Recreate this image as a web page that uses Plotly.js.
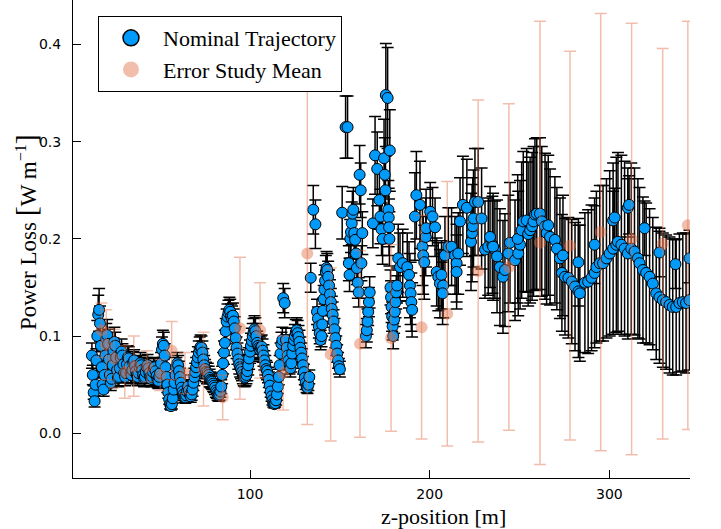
<!DOCTYPE html>
<html>
<head>
<meta charset="utf-8">
<script src="https://cdn.plot.ly/plotly-3.0.1.min.js"></script>
<style>
html,body{margin:0;padding:0;background:#ffffff;}
#chart{width:721px;height:529px;}
</style>
</head>
<body>
<div id="chart"></div>
<script>
// ---------------- Nominal Trajectory (z [m], power loss, error) ----------------
const nomZ = [
  12.0,12.5,13.0,13.5,14.0,14.5,15.0,15.5,16.0,16.5,17.0,17.5,18.0,18.5,19.0,19.5,20.0,20.5,21.0,21.5,22.0,22.5,23.0,23.5,24.0,24.5,25.0,25.5,26.0,26.5,27.0,27.5,28.0,28.5,29.0,29.5,30.0,30.5,31.0,31.5,32.0,32.5,33.0,33.5,34.0,34.5,35.0,35.5,36.0,
  36.5,37.0,37.5,38.0,38.5,39.0,39.5,40.0,40.5,41.0,41.5,42.0,42.5,43.0,43.5,44.0,44.5,45.0,45.5,46.0,46.5,47.0,47.5,48.0,48.5,49.0,49.5,
  50.0,50.5,51.0,51.5,52.0,52.5,53.0,53.5,54.0,54.5,55.0,55.5,56.0,56.5,57.0,57.5,58.0,
  58.5,59.0,59.5,60.0,60.5,61.0,61.5,62.0,62.5,63.0,63.5,64.0,64.5,65.0,65.5,66.0,66.5,67.0,67.5,68.0,68.5,69.0,69.5,70.0,70.5,71.0,71.5,72.0,72.5,73.0,73.5,74.0,74.5,75.0,
  75.5,76.0,76.5,77.0,77.5,78.0,78.5,79.0,79.5,80.0,80.5,81.0,81.5,82.0,82.5,83.0,83.5,84.0,84.5,85.0,85.5,86.0,86.5,87.0,87.5,88.0,88.5,89.0,89.5,90.0,90.5,91.0,91.5,92.0,92.5,93.0,93.5,94.0,94.5,
  95.0,95.5,96.0,96.5,97.0,97.5,98.0,98.5,99.0,99.5,100.0,100.5,101.0,101.5,102.0,102.5,103.0,103.5,104.0,
  104.5,105.0,105.5,106.0,106.5,107.0,107.5,108.0,108.5,109.0,109.5,110.0,110.5,111.0,111.5,112.0,112.5,113.0,113.5,114.0,114.5,115.0,115.5,116.0,116.5,117.0,117.5,118.0,
  118.5,119.3,120.0,120.5,121.0,121.5,122.0,122.5,123.0,123.5,124.0,124.5,125.0,125.5,126.0,126.5,127.0,127.5,128.0,128.5,129.0,129.5,130.0,130.5,131.0,131.5,132.0,132.5,133.0,
  133.8,135.2,136.4,137.3,137.8,138.3,138.8,139.3,139.8,140.2,140.6,141.0,141.4,141.8,142.2,142.6,143.0,143.5,144.0,144.5,145.0,145.5,146.0,146.5,147.0,147.5,148.0,148.5,149.0,149.5,150.0,
  151.3,153.2,154.3,155.0,155.4,155.8,156.2,156.6,157.0,157.5,158.0,158.5,159.0,159.5,160.0,160.5,161.0,161.6,162.5,
  162.0,164.5,165.0,165.4,165.8,166.2,166.6,168.4,169.6,170.8,172.0,172.6,173.2,173.8,174.6,175.0,175.4,175.6,176.6,177.0,177.2,177.4,177.6,177.8,178.2,178.5,178.8,179.1,179.4,179.7,180.2,180.6,181.0,181.4,181.8,
  182.5,183.5,185.0,187.5,188.5,189.0,189.4,189.8,190.2,191.8,192.6,194.6,196.0,196.4,197.0,197.8,198.0,
  200.3,201.6,203.0,203.9,204.8,205.7,206.6,207.5,207.2,208.5,210.4,212.2,214.1,215.0,215.0,215.9,
  216.9,218.5,220.7,223.0,223.6,224.0,224.4,225.2,227.0,228.9,230.8,232.6,234.9,236.3,233.6,235.3,237.5,239.1,240.8,241.9,243.8,244.7,247.5,249.3,250.3,249.0,
  251.2,252.1,254.0,254.8,255.9,257.0,257.8,258.6,259.6,261.4,262.4,264.2,265.1,266.0,267.0,
  269.7,270.8,272.5,274.2,273.6,275.3,277.2,279.1,280.9,282.8,283.6,282.8,286.4,288.2,290.1,291.8,292.8,291.8,294.7,
  296.5,298.4,300.2,302.1,303.9,304.8,306.7,308.5,310.3,312.2,314.0,315.9,316.8,318.7,320.5,322.4,324.2,326.1,327.9,329.8,331.6,333.5,335.3,337.2,339.0,340.9,342.7,344.6,
  302.1,303.0,310.3,311.0,319.6,327.9,336.8,344.6
];
const nomY = [
  0.080,0.060,0.042,0.033,0.050,0.075,0.100,0.122,0.127,0.113,0.090,0.068,0.050,0.045,0.060,0.080,0.097,0.101,0.092,0.076,0.060,0.052,0.056,0.070,0.085,0.094,0.090,0.078,0.065,0.057,0.058,0.067,0.078,0.084,0.080,0.071,0.062,0.058,0.062,0.071,0.078,0.077,0.069,0.062,0.060,0.065,0.073,0.075,0.069,
  0.064,0.060,0.058,0.062,0.068,0.072,0.070,0.065,0.060,0.057,0.058,0.063,0.068,0.070,0.067,0.062,0.058,0.056,0.058,0.063,0.067,0.068,0.064,0.059,0.055,0.054,0.058,
  0.062,0.072,0.086,0.092,0.090,0.080,0.068,0.058,0.050,0.042,0.035,0.030,0.028,0.030,0.036,0.045,0.052,
  0.060,0.068,0.072,0.070,0.064,0.058,0.052,0.047,0.043,0.040,0.038,0.037,0.039,0.043,0.048,0.044,0.040,0.038,0.040,0.045,0.052,0.058,0.063,0.068,0.073,0.078,0.083,0.087,0.089,0.088,0.083,0.076,0.070,0.066,
  0.063,0.060,0.062,0.060,0.057,0.055,0.054,0.053,0.051,0.049,0.047,0.044,0.042,0.040,0.039,0.040,0.043,0.048,0.060,0.072,0.083,0.093,0.105,0.115,0.120,0.124,0.127,0.125,0.120,0.118,0.121,0.115,0.108,0.098,0.088,0.082,0.076,0.071,0.068,
  0.066,0.063,0.060,0.058,0.057,0.058,0.060,0.064,0.070,0.077,0.084,0.090,0.095,0.100,0.104,0.107,0.105,0.100,0.093,
  0.090,0.088,0.086,0.088,0.089,0.085,0.080,0.075,0.070,0.066,0.064,0.060,0.055,0.049,0.043,0.038,0.034,0.031,0.030,0.031,0.034,0.040,0.048,0.058,0.070,0.082,0.092,0.096,
  0.139,0.134,0.096,0.088,0.080,0.075,0.070,0.067,0.072,0.082,0.090,0.096,0.100,0.104,0.106,0.103,0.099,0.094,0.088,0.083,0.077,0.070,0.063,0.057,0.052,0.048,0.047,0.050,0.058,
  0.160,0.230,0.215,0.125,0.118,0.110,0.103,0.096,0.100,0.112,0.126,0.138,0.148,0.157,0.166,0.170,0.168,0.161,0.152,0.143,0.135,0.128,0.122,0.115,0.107,0.098,0.090,0.082,0.075,0.069,0.066,
  0.227,0.315,0.315,0.175,0.163,0.200,0.207,0.216,0.226,0.230,0.206,0.199,0.185,0.170,0.155,0.145,0.266,0.250,0.206,
  0.175,0.100,0.106,0.115,0.125,0.135,0.145,0.216,0.286,0.272,0.240,0.223,0.210,0.200,0.283,0.266,0.250,0.348,0.345,0.230,0.222,0.212,0.200,0.291,0.150,0.140,0.130,0.120,0.110,0.100,0.117,0.125,0.135,0.145,0.152,
  0.180,0.171,0.175,0.171,0.163,0.152,0.144,0.135,0.127,0.223,0.245,0.235,0.192,0.183,0.176,0.202,0.211,
  0.228,0.223,0.212,0.166,0.161,0.154,0.163,0.152,0.144,0.183,0.192,0.192,0.183,0.175,0.166,0.185,
  0.218,0.235,0.232,0.197,0.206,0.213,0.221,0.238,0.238,0.221,0.189,0.192,0.194,0.189,0.202,0.192,0.182,0.171,0.161,0.168,0.185,0.196,0.178,0.185,0.194,0.200,
  0.209,0.218,0.219,0.205,0.209,0.213,0.218,0.225,0.226,0.226,0.218,0.213,0.206,0.214,0.202,
  0.199,0.190,0.180,0.183,0.165,0.161,0.160,0.156,0.151,0.146,0.144,0.176,0.155,0.156,0.160,0.165,0.171,0.194,0.175,
  0.175,0.180,0.185,0.190,0.194,0.197,0.194,0.190,0.185,0.190,0.187,0.180,0.175,0.168,0.165,0.161,0.154,0.144,0.140,0.137,0.135,0.132,0.130,0.130,0.134,0.135,0.134,0.137,
  0.219,0.222,0.232,0.235,0.211,0.186,0.174,0.180
];
const nomErr = [
  0.013,0.010,0.007,0.006,0.008,0.012,0.016,0.020,0.022,0.018,0.015,0.011,0.008,0.007,0.010,0.013,0.016,0.016,0.015,0.012,0.010,0.008,0.009,0.011,0.013,0.015,0.014,0.012,0.010,0.009,0.009,0.010,0.012,0.013,0.012,0.011,0.010,0.009,0.010,0.011,0.012,0.012,0.011,0.010,0.009,0.010,0.011,0.011,0.010,
  0.010,0.009,0.009,0.009,0.010,0.011,0.010,0.010,0.009,0.009,0.009,0.009,0.010,0.011,0.010,0.009,0.009,0.008,0.009,0.009,0.010,0.010,0.010,0.009,0.008,0.008,0.009,
  0.009,0.011,0.013,0.014,0.014,0.012,0.010,0.009,0.008,0.006,0.005,0.005,0.004,0.005,0.005,0.007,0.008,
  0.009,0.010,0.011,0.010,0.010,0.009,0.008,0.007,0.007,0.006,0.006,0.006,0.006,0.007,0.007,0.007,0.006,0.006,0.006,0.007,0.008,0.009,0.009,0.010,0.011,0.011,0.012,0.012,0.012,0.012,0.012,0.011,0.010,0.010,
  0.010,0.009,0.010,0.009,0.009,0.008,0.008,0.008,0.008,0.007,0.007,0.007,0.006,0.006,0.006,0.006,0.006,0.007,0.009,0.011,0.012,0.013,0.013,0.013,0.013,0.013,0.013,0.013,0.013,0.013,0.013,0.013,0.012,0.012,0.011,0.011,0.010,0.010,0.010,
  0.010,0.009,0.009,0.009,0.009,0.009,0.009,0.010,0.010,0.011,0.012,0.013,0.013,0.013,0.014,0.014,0.014,0.013,0.012,
  0.012,0.012,0.012,0.012,0.012,0.012,0.011,0.010,0.010,0.009,0.009,0.008,0.008,0.007,0.006,0.005,0.005,0.004,0.004,0.004,0.005,0.006,0.007,0.008,0.010,0.011,0.012,0.013,
  0.015,0.015,0.012,0.011,0.010,0.010,0.009,0.009,0.009,0.010,0.011,0.012,0.012,0.013,0.013,0.013,0.012,0.012,0.011,0.010,0.010,0.009,0.008,0.007,0.007,0.006,0.006,0.006,0.007,
  0.015,0.025,0.025,0.013,0.012,0.012,0.011,0.010,0.011,0.012,0.013,0.014,0.015,0.016,0.017,0.017,0.017,0.016,0.016,0.015,0.014,0.013,0.013,0.012,0.011,0.010,0.010,0.009,0.008,0.008,0.008,
  0.027,0.032,0.032,0.018,0.017,0.020,0.021,0.022,0.023,0.023,0.021,0.020,0.019,0.017,0.016,0.015,0.030,0.028,0.022,
  0.018,0.012,0.012,0.013,0.014,0.015,0.016,0.025,0.040,0.038,0.030,0.028,0.027,0.026,0.040,0.038,0.035,0.053,0.052,0.030,0.030,0.029,0.028,0.042,0.018,0.017,0.016,0.015,0.014,0.013,0.014,0.015,0.016,0.017,0.018,
  0.035,0.035,0.035,0.035,0.034,0.033,0.032,0.030,0.028,0.045,0.045,0.045,0.040,0.040,0.038,0.040,0.040,
  0.030,0.030,0.030,0.035,0.035,0.035,0.035,0.033,0.032,0.040,0.040,0.040,0.040,0.040,0.038,0.042,
  0.045,0.050,0.050,0.050,0.050,0.050,0.050,0.055,0.055,0.052,0.050,0.050,0.050,0.050,0.052,0.055,0.058,0.060,0.058,0.058,0.060,0.062,0.062,0.064,0.066,0.066,
  0.070,0.072,0.074,0.074,0.075,0.076,0.077,0.078,0.078,0.078,0.077,0.075,0.073,0.072,0.070,
  0.065,0.063,0.062,0.062,0.060,0.060,0.062,0.064,0.066,0.068,0.070,0.045,0.072,0.074,0.075,0.077,0.078,0.040,0.080,
  0.080,0.082,0.085,0.088,0.090,0.092,0.092,0.090,0.088,0.088,0.086,0.082,0.078,0.075,0.072,0.070,0.068,0.068,0.068,0.069,0.069,0.070,0.070,0.070,0.071,0.071,0.072,0.072,
  0.030,0.030,0.030,0.030,0.028,0.025,0.025,0.025
];

// ---------------- Error Study Mean (z [m], mean, error) ----------------
const meanZ = [17.3,20.0,24.2,30.3,35.3,42.7,50.1,56.4,63.8,74.1,84.8,94.4,105.6,118.4,131.9,144.9,161.2,178.5,195.5,209.8,227.0,244.1,261.4,278.1,295.2,312.4,329.7,343.7];
const meanY = [0.106,0.091,0.077,0.063,0.069,0.069,0.060,0.085,0.062,0.066,0.037,0.108,0.106,0.062,0.185,0.081,0.092,0.098,0.109,0.123,0.167,0.171,0.196,0.193,0.207,0.200,0.195,0.214];
const meanErr = [0.028,0.036,0.030,0.027,0.031,0.016,0.016,0.030,0.021,0.038,0.023,0.073,0.049,0.038,0.176,0.089,0.096,0.096,0.115,0.136,0.176,0.168,0.228,0.200,0.225,0.222,0.201,0.210];

// ---------------- Axis ticks ----------------
const xTickVals = [100, 200, 300];
const xTickText = ['100', '200', '300'];
const yTickVals = [0.0, 0.1, 0.2, 0.3, 0.4];
const yTickText = ['0.0', '0.1', '0.2', '0.3', '0.4'];

const seriesNames = ['Nominal Trajectory', 'Error Study Mean'];

const n = Math.min(nomZ.length, nomY.length, nomErr.length);
const m = Math.min(meanZ.length, meanY.length, meanErr.length);

const BLUE = '#009AFA';
const SALMON = 'rgba(226,111,70,0.45)';
const SERIF = '"Liberation Serif", "DejaVu Serif", serif';
const SANS = '"DejaVu Sans", sans-serif';

const traces = [
  {
    type: 'scatter', mode: 'markers', showlegend: false,
    x: nomZ.slice(0, n), y: nomY.slice(0, n),
    marker: {size: 11, color: BLUE, line: {color: '#000000', width: 1}},
    error_y: {type: 'data', array: nomErr.slice(0, n), visible: true, color: '#000000', thickness: 1.5, width: 6}
  },
  {
    type: 'scatter', mode: 'markers', showlegend: false,
    x: meanZ.slice(0, m), y: meanY.slice(0, m),
    marker: {size: 12, color: SALMON, line: {width: 0}},
    error_y: {type: 'data', array: meanErr.slice(0, m), visible: true, color: SALMON, thickness: 1.5, width: 6}
  },
  // legend entries
  {
    type: 'scatter', mode: 'markers', name: seriesNames[0], showlegend: true,
    x: [null], y: [null],
    marker: {size: 20, color: BLUE, line: {color: '#000000', width: 1.5}}
  },
  {
    type: 'scatter', mode: 'markers', name: seriesNames[1], showlegend: true,
    x: [null], y: [null],
    marker: {size: 20, color: SALMON, line: {width: 0}}
  }
];

const layout = {
  width: 721, height: 529,
  margin: {l: 73, r: 31, t: 0, b: 51, pad: 0},
  paper_bgcolor: '#ffffff', plot_bgcolor: '#ffffff',
  showlegend: true,
  xaxis: {
    range: [1.47, 344.9], tickvals: xTickVals, ticktext: xTickText,
    ticks: 'inside', ticklen: 8, tickwidth: 1, tickcolor: '#000000',
    showline: true, linecolor: '#000000', linewidth: 1, mirror: false,
    showgrid: false, zeroline: false,
    tickfont: {family: SANS, size: 14, color: '#000000'},
    ticklabelstandoff: 3
  },
  yaxis: {
    range: [-0.046, 0.4458], tickvals: yTickVals, ticktext: yTickText,
    ticks: 'inside', ticklen: 8, tickwidth: 1, tickcolor: '#000000',
    showline: true, linecolor: '#000000', linewidth: 1, mirror: false,
    showgrid: false, zeroline: false,
    tickfont: {family: SANS, size: 14, color: '#000000'},
    ticklabelstandoff: 8
  },
  legend: {
    x: 0.0405, y: 0.9665, xanchor: 'left', yanchor: 'top',
    bgcolor: '#ffffff', bordercolor: '#000000', borderwidth: 1,
    font: {family: SERIF, size: 22, color: '#000000'},
    itemwidth: 54, tracegroupgap: 0
  },
  annotations: [
    {
      text: 'z-position [m]', xref: 'paper', yref: 'paper',
      x: 0.601, y: -0.0795, xanchor: 'center', yanchor: 'middle', showarrow: false,
      font: {family: SERIF, size: 22, color: '#000000'}
    },
    {
      text: 'Power Loss <span style="font-size:30px">[</span>W m<sup>−1</sup><span style="font-size:30px">]</span>',
      xref: 'paper', yref: 'paper', textangle: -90,
      x: -0.0778, y: 0.5146, xanchor: 'center', yanchor: 'middle', showarrow: false,
      font: {family: SERIF, size: 23, color: '#000000'}
    }
  ]
};

Plotly.newPlot('chart', traces, layout, {staticPlot: true, displayModeBar: false});
</script>
</body>
</html>
